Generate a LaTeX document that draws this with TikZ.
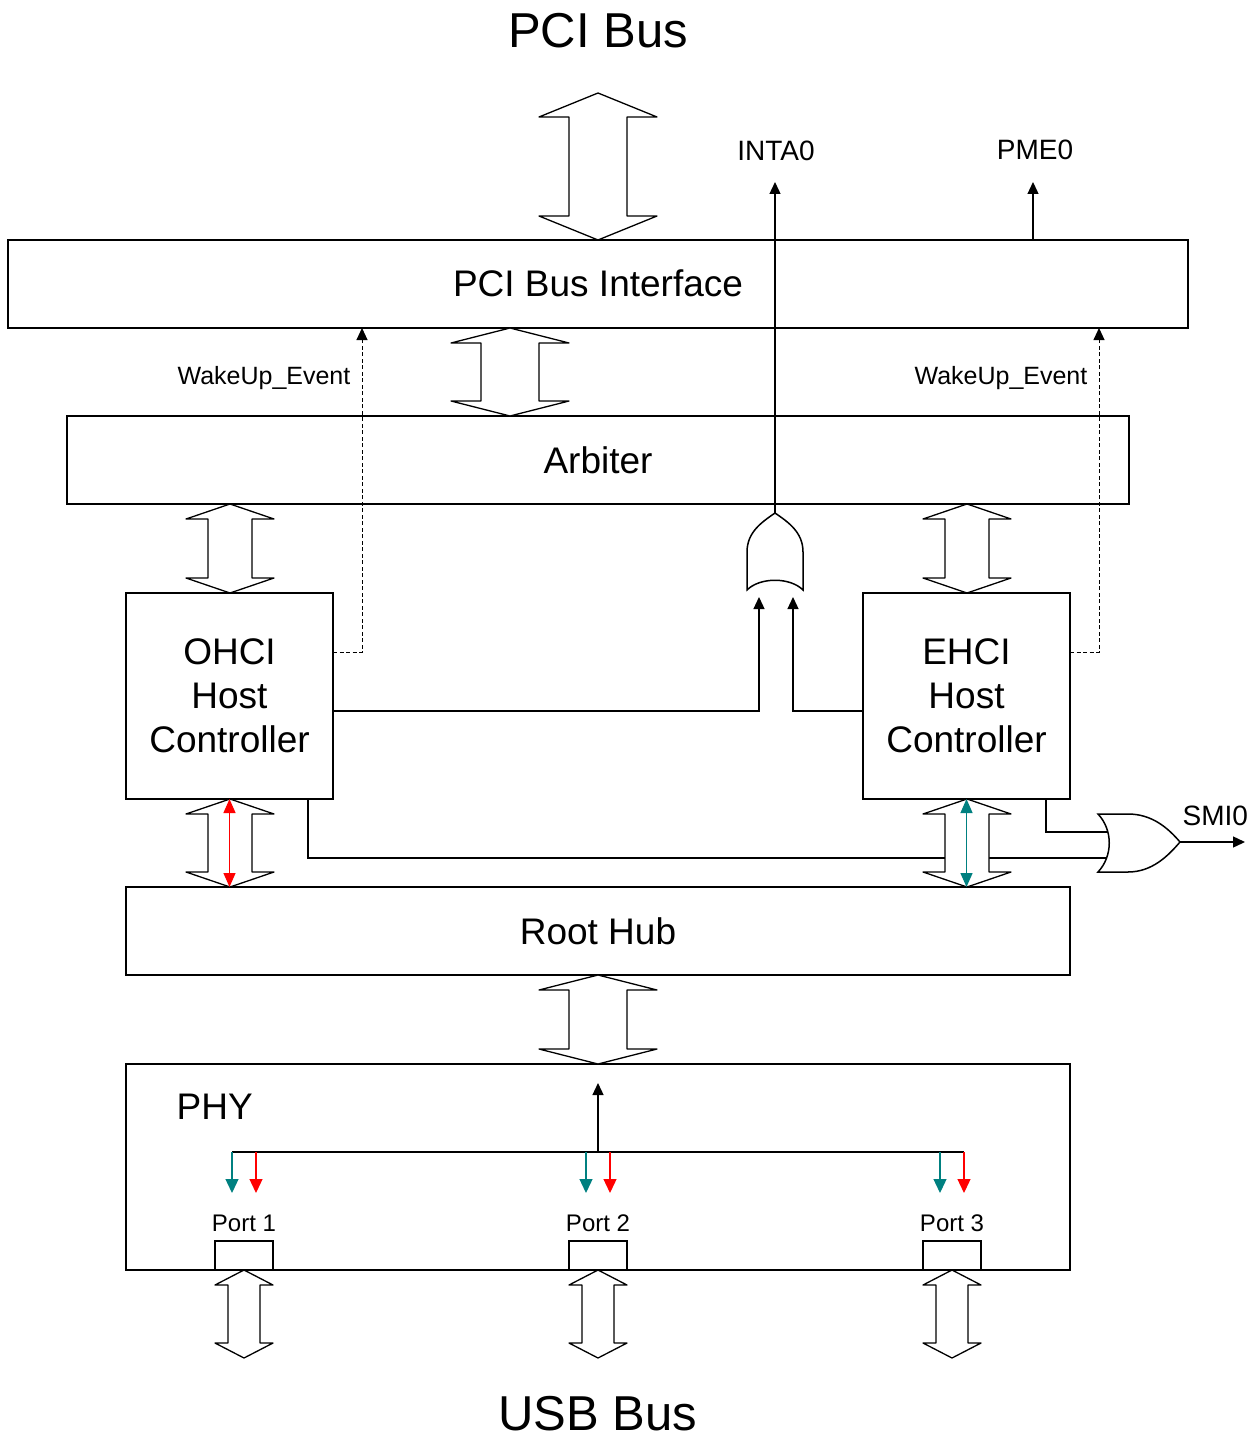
\documentclass[tikz,border=0pt]{standalone}
\usepackage{fontspec}
\setmainfont{Liberation Sans}
\usetikzlibrary{arrows.meta,calc}
\definecolor{tealc}{HTML}{008080}
\definecolor{redc}{HTML}{FF0000}
% fat double arrow: cx, top tip y, bottom tip y, head half width, shaft half width, head length
\newcommand\fatarrow[6]{%
  \draw[fatarr] (#1,#2) -- (#1+#4,#2+#6) -- (#1+#5,#2+#6) -- (#1+#5,#3-#6) -- (#1+#4,#3-#6)
    -- (#1,#3) -- (#1-#4,#3-#6) -- (#1-#5,#3-#6) -- (#1-#5,#2+#6) -- (#1-#4,#2+#6) -- cycle;}
\begin{document}
\begin{tikzpicture}[x=1pt,y=-1pt,line width=1.3pt,
  box/.style={draw, inner sep=0pt, outer sep=0pt, anchor=north west,
    font=\fontsize{37}{44}\selectfont, align=center},
  fatarr/.style={draw, fill=white, line width=1.3pt, line join=round},
  tip/.style={-{Triangle[length=12pt,width=11pt]}},
  ctip/.style={-{Triangle[length=14pt,width=13pt]}},
  dtip/.style={{Triangle[length=14pt,width=12pt]}-{Triangle[length=14pt,width=12pt]}},
  dashln/.style={line width=1pt, dash pattern=on 4pt off 2.5pt},
  big/.style={font=\fontsize{49}{58}\selectfont, anchor=base, inner sep=0pt},
  sig/.style={font=\fontsize{28}{32}\selectfont, inner sep=0pt},
  small/.style={font=\fontsize{25}{30}\selectfont, inner sep=0pt},
  port/.style={font=\fontsize{24}{28}\selectfont, anchor=base, inner sep=0pt}]
\useasboundingbox (0,0) rectangle (1259,1439);

% titles
\node[big] (ttop) at (598,48) {PCI Bus};
\node[big] (tbot) at (598,1430) {USB Bus};

% boxes
\node[box, minimum width=1180pt, minimum height=88pt] (pci) at (8,240) {\raisebox{2pt}{PCI Bus Interface}};
\node[box, minimum width=1062pt, minimum height=88pt] (arb) at (67,416) {Arbiter};
\node[box, minimum width=207pt, minimum height=206pt] (ohci) at (126,593) {OHCI\\Host\\Controller};
\node[box, minimum width=207pt, minimum height=206pt] (ehci) at (863,593) {EHCI\\Host\\Controller};
\node[box, minimum width=944pt, minimum height=88pt] (hub) at (126,887) {Root Hub};
\node[box, minimum width=944pt, minimum height=206pt] (phy) at (126,1064) {};
\node[font=\fontsize{37}{44}\selectfont, anchor=base west, inner sep=0pt] (phyl) at (176,1119) {PHY};
\node[box, minimum width=58pt, minimum height=29pt] (p1) at (215,1241) {};
\node[box, minimum width=58pt, minimum height=29pt] (p2) at (569,1241) {};
\node[box, minimum width=58pt, minimum height=29pt] (p3) at (923,1241) {};
\node[port] (p1l) at (244,1231) {Port 1};
\node[port] (p2l) at (598,1231) {Port 2};
\node[port] (p3l) at (952,1231) {Port 3};

% signal labels
\node[sig, anchor=base] (intal) at (776,161) {INTA0};
\node[sig, anchor=base] (pmel) at (1035,160) {PME0};
\node[sig, anchor=base west] (smil) at (1182,825) {SMI0};
\node[small, anchor=base east] (wk1l) at (351,384) {WakeUp\_Event};
\node[small, anchor=base east] (wk2l) at (1088,384) {WakeUp\_Event};

% coordinates
\coordinate (orA) at (759,597);
\coordinate (orB) at (793,597);
\coordinate (orOut) at (775,513);
\coordinate (inta) at (775,182);
\coordinate (pmeS) at (1033,240);
\coordinate (pme) at (1033,182);
\coordinate (wk1) at (362,328);
\coordinate (wk2) at (1099,328);
\coordinate (smiA) at (1108,832);
\coordinate (smiB) at (1108,858);
\coordinate (smiOut) at (1180,842);
\coordinate (smiEnd) at (1245,842);

% signal lines
\draw[tip] (orOut) -- (inta);
\draw[tip] (pmeS) -- (pme);
\draw[tip] ([yshift=-15pt]ohci.east) -| (orA);
\draw[tip] ([yshift=-15pt]ehci.west) -| (orB);
\draw[dashln, tip] ([yshift=44pt]ohci.east) -| (wk1);
\draw[dashln, tip] ([yshift=44pt]ehci.east) -| (wk2);
\draw ([xshift=-24pt]ehci.south east) |- (smiA);
\draw ([xshift=-25pt]ohci.south east) |- (smiB);
\draw[tip] (smiOut) -- (smiEnd);

% OR gates
\draw[fill=white, line width=1.5pt] (747,590) -- (747,552) .. controls (747,532) and (762,522) .. (orOut)
  .. controls (788,522) and (803,532) .. (803,552) -- (803,590)
  .. controls (790,577) and (760,577) .. (747,590) -- cycle;
\draw[fill=white, line width=1.5pt] (1098,814) -- (1128,814) .. controls (1152,814) and (1168,828) .. (smiOut)
  .. controls (1168,856) and (1152,872) .. (1128,872) -- (1098,872)
  .. controls (1113,856) and (1113,830) .. (1098,814) -- cycle;

% fat arrows
\fatarrow{598}{93}{240}{59}{29}{24}
\fatarrow{510}{328}{416}{59}{29}{15}
\fatarrow{230}{504}{593}{44}{22}{15}
\fatarrow{967}{504}{593}{44}{22}{15}
\fatarrow{230}{799}{887}{44}{22}{15}
\fatarrow{967}{799}{887}{44}{22}{15}
\fatarrow{598}{975}{1064}{59}{29}{15}
\fatarrow{244}{1270}{1358}{29}{16}{15}
\fatarrow{598}{1270}{1358}{29}{16}{15}
\fatarrow{952}{1270}{1358}{29}{16}{15}

% coloured arrows in the links
\draw[redc, dtip] (ohci.south) -- (hub.north -| ohci.south);
\draw[tealc, dtip] (ehci.south) -- (hub.north -| ehci.south);

% PHY internals
\coordinate (busL) at (232,1152);
\coordinate (busR) at (964,1152);
\coordinate (busM) at (598,1152);
\draw (busL) -- (busR);
\draw[tip] (busM) -- (598,1083);
\foreach \x in {232,586,940} \draw[tealc, ctip] (\x,1152) -- (\x,1193);
\foreach \x in {256,610,964} \draw[redc, ctip] (\x,1152) -- (\x,1193);
\end{tikzpicture}
\end{document}
